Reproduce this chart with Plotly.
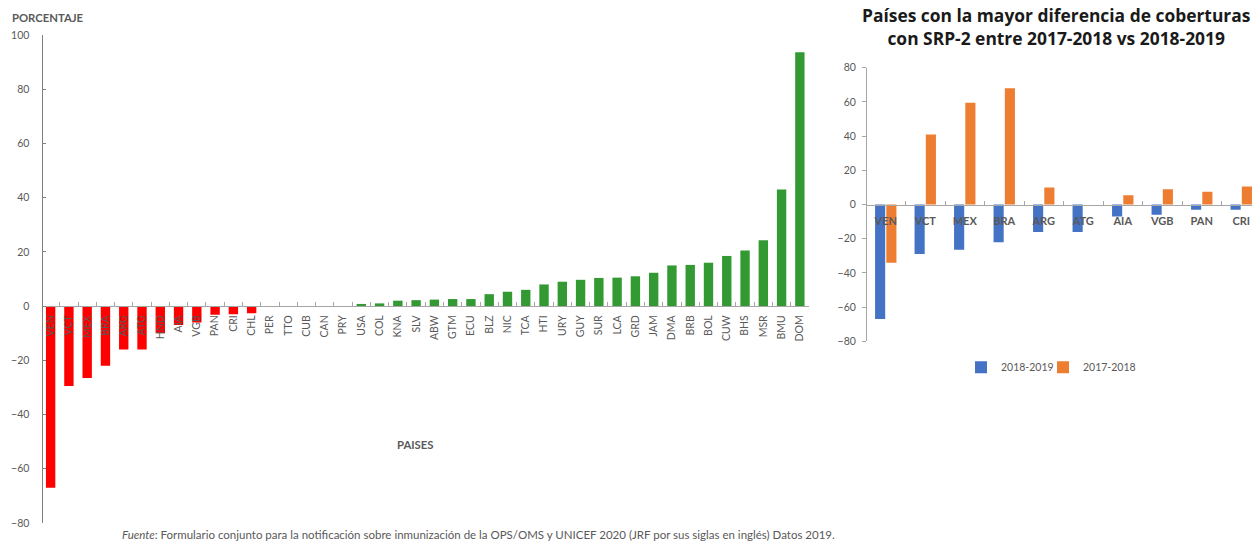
import plotly.graph_objects as go

W, H = 1252, 542
OFF = 0  # body margin removed via post_script

# ---- Left chart data ----
paises = ["VEN", "VCT", "MEX", "BRA", "ARG", "ATG", "HND", "AIA", "VGB", "PAN", "CRI", "CHL",
          "PER", "TTO", "CUB", "CAN", "PRY", "USA", "COL", "KNA", "SLV", "ABW", "GTM", "ECU",
          "BLZ", "NIC", "TCA", "HTI", "URY", "GUY", "SUR", "LCA", "GRD", "JAM", "DMA", "BRB",
          "BOL", "CUW", "BHS", "MSR", "BMU", "DOM"]
porcentaje = [-67, -29.5, -26.5, -22, -16, -16, -10, -7, -6, -3.2, -3, -2.6,
              0, 0, 0, 0, 0, 0.8, 1, 2, 2.2, 2.4, 2.6, 2.6,
              4.4, 5.3, 6, 8, 9, 9.7, 10.4, 10.5, 11, 12.3, 15, 15.2,
              16, 18.5, 20.5, 24.3, 43, 93.6]
y_ticks_left = [-80, -60, -40, -20, 0, 20, 40, 60, 80, 100]

# ---- Right chart data ----
paises_dif = ["VEN", "VCT", "MEX", "BRA", "ARG", "ATG", "AIA", "VGB", "PAN", "CRI"]
dif_2018_2019 = [-67, -29, -26.5, -22, -16, -16, -7, -6, -3, -3]
dif_2017_2018 = [-34, 41, 59.5, 68, 10, 0, 5.5, 9, 7.5, 10.5]
y_ticks_right = [-80, -60, -40, -20, 0, 20, 40, 60, 80]

FONT = "Lato"
GRAY = "#595959"
AXIS = "#a6a6a6"
GREEN = "#339933"
RED = "#ff0000"
BLUE = "#4472c4"
ORANGE = "#ed7d31"

def px_x(p):
    return (p - OFF) / W

def px_y(p):
    return 1 - (p - OFF) / H

fig = go.Figure()

fig.add_trace(go.Bar(
    x=paises, y=porcentaje,
    marker=dict(color=[RED if v < 0 else GREEN for v in porcentaje], line=dict(width=0)),
    xaxis="x", yaxis="y", showlegend=False,
))

fig.add_trace(go.Bar(
    x=paises_dif, y=dif_2018_2019, name="2018-2019",
    marker=dict(color=BLUE, line=dict(width=0)),
    xaxis="x2", yaxis="y2", legend="legend",
))
fig.add_trace(go.Bar(
    x=paises_dif, y=dif_2017_2018, name="2017-2018",
    marker=dict(color=ORANGE, line=dict(width=0)),
    xaxis="x2", yaxis="y2", legend="legend2",
))

# left geometry (reference page pixels)
L_x0, L_x1 = 41.5, 809
L_ytop, L_ybot = 35, 523
L_zero = L_ytop + (L_ybot - L_ytop) * 100 / 180
# right geometry
R_x0 = 866
R_ytop, R_ybot = 67.8, 341.3
R_zero = (R_ytop + R_ybot) / 2
R_step = 39.5
R_x1 = 1252
R_range_end = (R_x1 - R_x0) / R_step - 0.5

leg_common = dict(
    orientation="h", xanchor="left", yanchor="top",
    font=dict(size=10.5, color=GRAY), bgcolor="rgba(0,0,0,0)",
)

fig.update_layout(
    width=W, height=H,
    margin=dict(l=0, r=0, t=0, b=0, autoexpand=False),
    paper_bgcolor="white", plot_bgcolor="white",
    font=dict(family=FONT, color=GRAY, size=10),
    bargap=0.43,
    bargroupgap=0.1,
    barmode="group",
    xaxis=dict(
        domain=[px_x(L_x0), px_x(L_x1)],
        anchor="free", position=px_y(L_zero),
        type="category", automargin=False,
        showline=True, linecolor=AXIS, linewidth=1,
        ticks="inside", ticklen=4, tickcolor=AXIS, tickson="boundaries",
        tickangle=-90, tickfont=dict(size=10.5, color=GRAY, family=FONT),
        ticklabelstandoff=4,
        showgrid=False, zeroline=False,
    ),
    yaxis=dict(
        domain=[px_y(L_ybot), px_y(L_ytop)],
        anchor="free", position=px_x(L_x0), automargin=False,
        range=[-80, 100], tickvals=y_ticks_left,
        showline=True, linecolor="#808080", linewidth=1,
        ticks="inside", ticklen=3, tickcolor="#808080",
        tickfont=dict(size=10.5, color=GRAY),
        ticklabelstandoff=10,
        showgrid=False, zeroline=False,
    ),
    xaxis2=dict(
        domain=[px_x(R_x0), px_x(R_x1)],
        anchor="free", position=px_y(R_zero), automargin=False,
        type="category", range=[-0.5, R_range_end],
        showline=True, linecolor=AXIS, linewidth=1,
        ticks="inside", ticklen=4, tickcolor=AXIS, tickson="boundaries",
        tickfont=dict(size=11, color=GRAY, family=FONT, weight="bold"),
        ticklabelstandoff=6,
        showgrid=False, zeroline=False,
    ),
    yaxis2=dict(
        domain=[px_y(R_ybot), px_y(R_ytop)],
        anchor="free", position=px_x(R_x0), automargin=False,
        range=[-80, 80], tickvals=y_ticks_right,
        showline=True, linecolor=AXIS, linewidth=1,
        ticks="outside", ticklen=4, tickcolor=AXIS,
        tickfont=dict(size=10.5, color=GRAY),
        ticklabelstandoff=4,
        showgrid=False, zeroline=False,
    ),
    legend=dict(x=px_x(961), y=px_y(352.7), **leg_common),
    legend2=dict(x=px_x(1043), y=px_y(352.7), **leg_common),
)

annotations = [
    dict(text="<b>PORCENTAJE</b>", x=px_x(10), y=px_y(18), xanchor="left", yanchor="middle",
         font=dict(size=11.3, color=GRAY)),
    dict(text="<b>PAISES</b>", x=px_x(415), y=px_y(444), xanchor="center", yanchor="middle",
         font=dict(size=11.3, color=GRAY)),
    dict(text="<i>Fuente</i>: Formulario conjunto para la notificación sobre inmunización de la OPS/OMS y UNICEF 2020 (JRF por sus siglas en inglés) Datos 2019.",
         x=px_x(120), y=px_y(534), xanchor="left", yanchor="middle",
         font=dict(size=11.5, color=GRAY)),
    dict(text="<b>Países con la mayor diferencia de coberturas</b><br><b>con SRP-2 entre 2017-2018 vs 2018-2019</b>",
         x=px_x(1056), y=px_y(26), xanchor="center", yanchor="middle", align="center",
         font=dict(size=17.4, color="#1a1a1a", family="Open Sans")),
]
for a in annotations:
    a.update(xref="paper", yref="paper", showarrow=False)
fig.update_layout(annotations=annotations)

fig.write_html(
    "out.html",
    config={"displayModeBar": False},
    post_script="document.body.style.margin='0';document.body.style.overflow='hidden';"
                "document.documentElement.style.overflow='hidden';",
)
